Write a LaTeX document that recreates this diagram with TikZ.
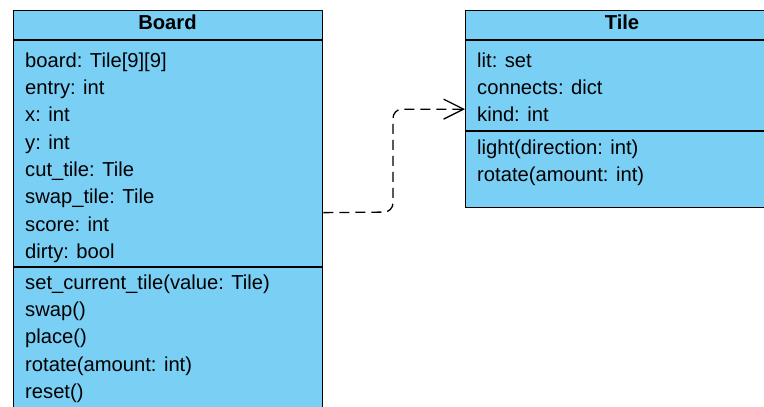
\documentclass[tikz,border=0pt]{standalone}
\usepackage{fontspec}
\setmainfont{Liberation Sans}
\usetikzlibrary{arrows.meta}
\definecolor{umlblue}{RGB}{122,207,245}
\tikzset{
  classbox/.style={draw, fill=umlblue, line width=1.3pt, anchor=north west, inner sep=0pt},
  member/.style={anchor=base west, inner sep=0pt},
  title/.style={anchor=base, inner sep=0pt, font=\fontsize{20.2}{24}\selectfont\bfseries}
}
\begin{document}
\begin{tikzpicture}[x=1pt, y=-1pt, font=\fontsize{20.2}{24}\selectfont, line join=round]
		\def\dy{27.3} % row step
		\useasboundingbox (0,0) rectangle (764,407);
		% Board
		\node[classbox, minimum width=309pt, minimum height=404pt] (board) at (13,10) {};
		\draw[line width=1.3pt] ([yshift=-30pt]board.north west) -- ([yshift=-30pt]board.north east);
		\draw[line width=1.3pt] ([yshift=-257pt]board.north west) -- ([yshift=-257pt]board.north east);
		\node[title] (boardtitle) at (167.5,29.3) {Board};
		\node[member] (bfield1) at (25,67.3) {board: Tile[9][9]};
		\node[member] (bfield2) at (25,67.3+\dy) {entry: int};
		\node[member] (bfield3) at (25,67.3+2*\dy) {x: int};
		\node[member] (bfield4) at (25,67.3+3*\dy) {y: int};
		\node[member] (bfield5) at (25,67.3+4*\dy) {cut\_tile: Tile};
		\node[member] (bfield6) at (25,67.3+5*\dy) {swap\_tile: Tile};
		\node[member] (bfield7) at (25,67.3+6*\dy) {score: int};
		\node[member] (bfield8) at (25,67.3+7*\dy) {dirty: bool};
		\node[member] (bmeth1) at (25,289.3) {set\_current\_tile(value: Tile)};
		\node[member] (bmeth2) at (25,289.3+\dy) {swap()};
		\node[member] (bmeth3) at (25,289.3+2*\dy) {place()};
		\node[member] (bmeth4) at (25,289.3+3*\dy) {rotate(amount: int)};
		\node[member] (bmeth5) at (25,289.3+4*\dy) {reset()};
		% Tile
		\node[classbox, minimum width=314pt, minimum height=197pt] (tile) at (465,10) {};
		\draw[line width=1.3pt] ([yshift=-30pt]tile.north west) -- ([yshift=-30pt]tile.north east);
		\draw[line width=1.3pt] ([yshift=-121pt]tile.north west) -- ([yshift=-121pt]tile.north east);
		\node[title] (tiletitle) at (622,29.3) {Tile};
		\node[member] (tfield1) at (477,67.3) {lit: set};
		\node[member] (tfield2) at (477,67.3+\dy) {connects: dict};
		\node[member] (tfield3) at (477,67.3+2*\dy) {kind: int};
		\node[member] (tmeth1) at (477,154) {light(direction: int)};
		\node[member] (tmeth2) at (477,154+\dy) {rotate(amount: int)};
		% dependency
		\coordinate (bend) at (393,212);
		\draw[line width=1.3pt, dash pattern=on 10pt off 6pt, rounded corners=9pt,
			-{Straight Barb[length=20pt,width=20pt,line width=1.3pt]}]
			(board.east) -- (bend) |- (tile.west);
\end{tikzpicture}
\end{document}
